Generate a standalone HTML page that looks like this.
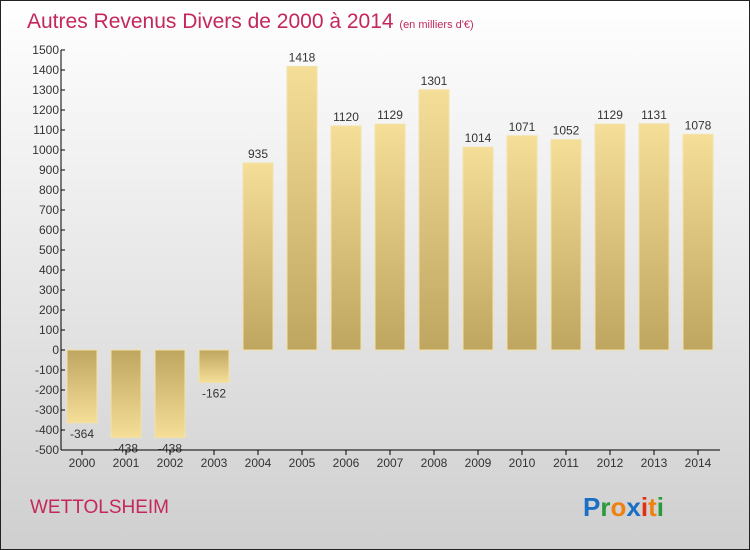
<!DOCTYPE html>
<html><head><meta charset="utf-8"><style>
body{margin:0;width:750px;height:550px;overflow:hidden}
svg{display:block;font-family:"Liberation Sans",sans-serif}
</style></head><body>
<svg id="c" width="750" height="550">
<defs>
<linearGradient id="bg" x1="0" y1="0" x2="0" y2="1"><stop offset="0" stop-color="#ffffff"/><stop offset="1" stop-color="#cfcfcf"/></linearGradient>
<linearGradient id="gp" x1="0" y1="0" x2="0" y2="1"><stop offset="0" stop-color="#f5de98"/><stop offset="1" stop-color="#bfa660"/></linearGradient>
<linearGradient id="gn" x1="0" y1="0" x2="0" y2="1"><stop offset="0" stop-color="#bfa660"/><stop offset="1" stop-color="#f5de98"/></linearGradient>
</defs>
<rect x="0.5" y="0.5" width="749" height="549" fill="url(#bg)" stroke="#222"/>
<text x="27" y="28" font-size="21" fill="#c4285a">Autres Revenus Divers de 2000 à 2014 <tspan font-size="11">(en milliers d'€)</tspan></text>
<text x="30" y="513" font-size="19" fill="#c4285a">WETTOLSHEIM</text>
<text x="583" y="516" font-size="26" font-weight="bold"><tspan fill="#1a6fc4">P</tspan><tspan fill="#2a9a3a">r</tspan><tspan fill="#f08010">o</tspan><tspan fill="#1a6fc4">x</tspan><tspan fill="#e03010">i</tspan><tspan fill="#f08010">t</tspan><tspan fill="#2a9a3a">i</tspan></text>
<g id="plot"></g>
</svg>
<script>
const years=["2000","2001","2002","2003","2004","2005","2006","2007","2008","2009","2010","2011","2012","2013","2014"];
const values=[-364,-438,-438,-162,935,1418,1120,1129,1301,1014,1071,1052,1129,1131,1078];
const yTicks=[-500,-400,-300,-200,-100,0,100,200,300,400,500,600,700,800,900,1000,1100,1200,1300,1400,1500];
const NS="http://www.w3.org/2000/svg";
const g=document.getElementById('plot');
const y=v=>350-v*0.2;
const x=i=>82+i*44;
function mk(t,a,txt){const e=document.createElementNS(NS,t);for(const k in a)e.setAttribute(k,a[k]);if(txt!==undefined)e.textContent=txt;g.appendChild(e);return e;}
values.forEach((v,i)=>{
 const top=Math.min(y(v),y(0)),h=Math.abs(y(v)-y(0));
 const r=mk('rect',{x:x(i)-15,y:top,width:30,height:h,fill:v>=0?'url(#gp)':'url(#gn)',stroke:'#f3e2a8','stroke-width':1});
 
 
 const lbl=v>=0?String(v):'-'+Math.abs(v);
 const t=mk('text',{x:x(i),y:v>=0?y(v)-5:y(v)+15,'font-size':12,'text-anchor':'middle',fill:'#333'},lbl);
 
 
 const tk=mk('line',{x1:x(i),x2:x(i),y1:450,y2:455,stroke:'#000'});
 
 
 const yl=mk('text',{x:x(i),y:467,'font-size':12,'text-anchor':'middle',fill:'#333'},years[i]);
 
 
});
yTicks.forEach(v=>{
 const tk=mk('line',{x1:61,x2:65,y1:y(v),y2:y(v),stroke:'#000'});
 
 
 const t=mk('text',{x:59,y:y(v)+4,'font-size':12,'text-anchor':'end',fill:'#333'},v<0?'-'+Math.abs(v):String(v));
 
 
});
const ya=mk('line',{x1:61,x2:61,y1:50,y2:450,stroke:'#000'});


const xa=mk('line',{x1:61,x2:720,y1:450,y2:450,stroke:'#000'});


</script>
</body></html>
